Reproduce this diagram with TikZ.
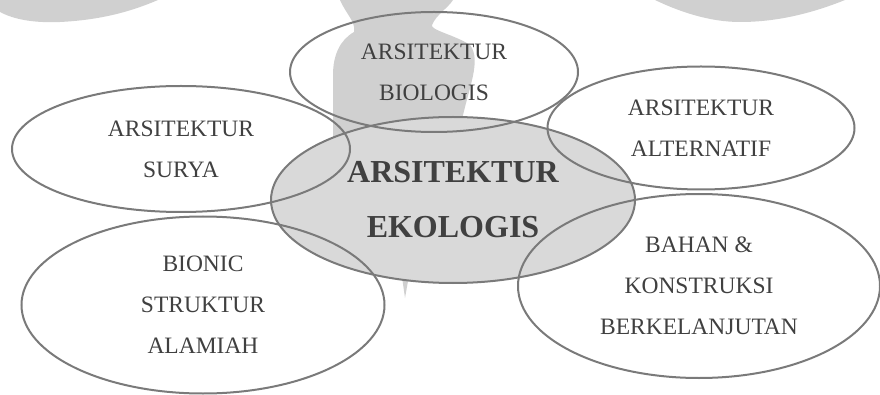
\documentclass[tikz,border=0pt]{standalone}
\usepackage{fontspec}
\setmainfont{Liberation Serif}
\usetikzlibrary{shapes.geometric}
\definecolor{rim}{HTML}{7A7A7A}
\definecolor{ink}{HTML}{404040}
\definecolor{core}{HTML}{D9D9D9}
\definecolor{wmark}{HTML}{D0D0D0}
\tikzset{
  bubble/.style={ellipse, draw=rim, line width=2pt, inner sep=0pt, align=center,
                 text=ink, font=\fontsize{23.5}{41}\selectfont},
  corebubble/.style={bubble, fill=core, font=\fontsize{32}{55}\selectfont\bfseries},
}

\begin{document}
\begin{tikzpicture}[x=1pt,y=-1pt]
  \useasboundingbox (0,0) rectangle (880,395);
  % --- watermark behind ---
  \fill[wmark] (0,0) -- (0,12) .. controls (15,20) and (35,23) .. (60,22)
     .. controls (100,20) and (130,12) .. (158,0) -- cycle;
  \fill[wmark] (655,0) .. controls (680,12) and (710,22) .. (740,22)
     .. controls (780,22) and (815,12) .. (845,0) -- cycle;
  \fill[wmark] (340,0) .. controls (346,14) and (356,22) .. (354,32)
     .. controls (340,40) and (333,55) .. (333,75) -- (333,160)
     .. controls (340,220) and (400,240) .. (401,270) -- (405,298) -- (410,270)
     .. controls (413,240) and (458,200) .. (462,120)
     .. controls (468,90) and (482,60) .. (470,45)
     .. controls (455,35) and (430,30) .. (432,25)
     .. controls (436,15) and (448,8) .. (453,0) -- cycle;
  % --- core ---
  \node[corebubble, minimum width=364pt, minimum height=166pt] (eko) at (453,200)
    {ARSITEKTUR\\EKOLOGIS};
  % --- surrounding themes ---
  \node[bubble, minimum width=288pt, minimum height=120pt] (bio) at (434,72)
    {ARSITEKTUR\\BIOLOGIS};
  \node[bubble, minimum width=338pt, minimum height=126pt] (surya) at (181,149)
    {ARSITEKTUR\\SURYA};
  \node[bubble, minimum width=307pt, minimum height=123pt] (alt) at (701,128)
    {ARSITEKTUR\\ALTERNATIF};
  \node[bubble, minimum width=363pt, minimum height=177pt] (bionic) at (203,305)
    {BIONIC\\STRUKTUR\\ALAMIAH};
  \node[bubble, minimum width=362pt, minimum height=184pt] (bahan) at (699,286)
    {BAHAN \&\\KONSTRUKSI\\BERKELANJUTAN};
\end{tikzpicture}
\end{document}
